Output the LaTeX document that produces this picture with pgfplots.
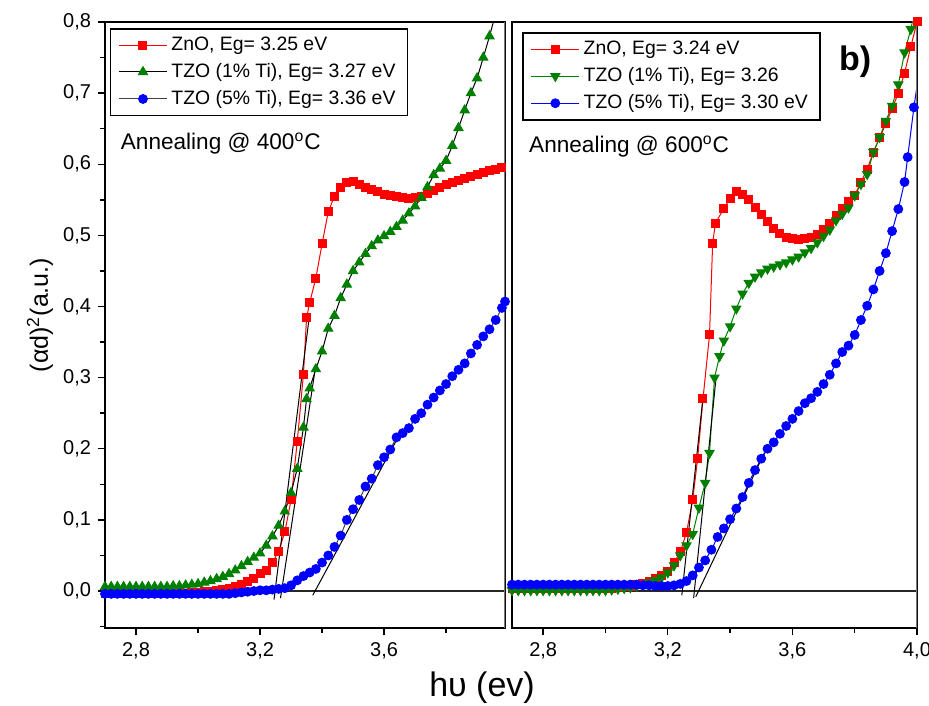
\documentclass[border=0pt]{standalone}
\usepackage{fontspec}
\setmainfont{Liberation Sans}
\usepackage{pgfplots}
\pgfplotsset{compat=1.18}
\definecolor{zred}{RGB}{255,0,0}
\definecolor{zgreen}{RGB}{0,128,0}
\definecolor{zblue}{RGB}{0,0,255}
\definecolor{frame}{RGB}{120,120,120}

\pgfplotsset{
  panel/.style={
    scale only axis, height=303pt,
    ymin=-0.052, ymax=0.8, xmin=2.7,
    axis line style={line width=0.8pt},
    tick style={black, line width=0.7pt},
    tick align=outside, major tick length=3.5pt, minor tick length=2.5pt,
    xtick pos=left, ytick pos=left,
    ticklabel style={font=\fontsize{10}{12}\selectfont},
    /pgf/number format/assume math mode=true,
    /pgf/number format/use comma,
    /pgf/number format/fixed,
    /pgf/number format/fixed zerofill,
    /pgf/number format/precision=1,
    legend cell align=left,
    legend image code/.code={\draw[mark repeat=2,mark phase=2]
      plot coordinates {(0cm,0cm) (0.42cm,0cm) (0.84cm,0cm)};},
    legend style={draw=black, line width=0.8pt, anchor=north west,
      font=\fontsize{9.7}{11}\selectfont, inner xsep=4pt, inner ysep=2pt,
      row sep=1pt},
  },
  tang/.style={black, line width=0.5pt, forget plot},
  zero/.style={black!85, line width=1.4pt, forget plot},
}

\begin{document}
\begin{tikzpicture}
\useasboundingbox (0,0) rectangle (464.5pt,352.5pt);

% ---- left panel: annealing 400 C
\begin{axis}[panel, at={(52.5pt,38.5pt)}, anchor=south west,
  width=200pt, xmax=3.99,
  xtick={2.8,3.2,3.6}, minor xtick={3.0,3.4,3.8},
  ytick={0,0.1,...,0.8}, minor ytick={-0.05,0.05,0.15,0.25,0.35,0.45,0.55,0.65,0.75},
  legend style={at={(0.012,0.99)}},
]
\addplot[zred, line width=0.5pt, mark=square*, mark size=2pt,
  mark options={fill=zred, draw=zred}] coordinates {
(2.70,-0.004) (2.72,-0.004) (2.74,-0.004) (2.76,-0.004) (2.78,-0.004) (2.80,-0.004)
(2.82,-0.004) (2.84,-0.004) (2.86,-0.004) (2.88,-0.004) (2.90,-0.004) (2.92,-0.003)
(2.94,-0.003) (2.96,-0.003) (2.98,-0.002) (3.00,-0.002) (3.02,-0.001) (3.04,0.000)
(3.06,0.001) (3.08,0.002) (3.10,0.004) (3.12,0.006) (3.14,0.009) (3.16,0.013)
(3.18,0.018) (3.20,0.024) (3.22,0.029) (3.24,0.040) (3.26,0.056) (3.28,0.083)
(3.30,0.128) (3.32,0.210) (3.34,0.305) (3.35,0.384) (3.36,0.405) (3.38,0.440)
(3.40,0.488) (3.42,0.533) (3.44,0.555) (3.46,0.568) (3.48,0.575) (3.50,0.576)
(3.52,0.572) (3.54,0.567) (3.56,0.564) (3.58,0.561) (3.60,0.558) (3.62,0.556)
(3.64,0.554) (3.66,0.553) (3.68,0.552) (3.70,0.553) (3.72,0.555) (3.74,0.559)
(3.76,0.563) (3.78,0.567) (3.80,0.571) (3.82,0.574) (3.84,0.577) (3.86,0.580)
(3.88,0.583) (3.90,0.586) (3.92,0.588) (3.94,0.591) (3.96,0.593) (3.98,0.596)
};
\addlegendentry{ZnO, Eg= 3.25 eV}
\addplot[black, line width=0.5pt, mark=triangle*, mark size=2.6pt,
  mark options={fill=zgreen, draw=zgreen}] coordinates {
(2.70,0.006) (2.72,0.006) (2.74,0.006) (2.76,0.006) (2.78,0.006) (2.80,0.006)
(2.82,0.006) (2.84,0.006) (2.86,0.006) (2.88,0.006) (2.90,0.006) (2.92,0.007)
(2.94,0.007) (2.96,0.008) (2.98,0.009) (3.00,0.010) (3.02,0.012) (3.04,0.014)
(3.06,0.017) (3.08,0.020) (3.10,0.024) (3.12,0.029) (3.14,0.035) (3.16,0.041)
(3.18,0.047) (3.20,0.053) (3.22,0.064) (3.24,0.077) (3.26,0.092) (3.28,0.112)
(3.30,0.138) (3.32,0.172) (3.34,0.230) (3.35,0.270) (3.36,0.285) (3.38,0.312)
(3.40,0.337) (3.42,0.369) (3.44,0.387) (3.46,0.412) (3.48,0.431) (3.50,0.450)
(3.52,0.462) (3.54,0.474) (3.56,0.485) (3.58,0.493) (3.60,0.499) (3.62,0.505)
(3.64,0.512) (3.66,0.521) (3.68,0.531) (3.70,0.541) (3.72,0.553) (3.74,0.568)
(3.76,0.585) (3.78,0.594) (3.80,0.605) (3.82,0.626) (3.84,0.651) (3.86,0.676)
(3.88,0.700) (3.90,0.721) (3.92,0.750) (3.94,0.780) (3.96,0.812)
};
\addlegendentry{TZO (1\% Ti), Eg= 3.27 eV}
\addplot[black!75, line width=0.5pt, mark=*, mark size=2.2pt,
  mark options={fill=zblue, draw=zblue}] coordinates {
(2.70,-0.004) (2.72,-0.004) (2.74,-0.004) (2.76,-0.004) (2.78,-0.004) (2.80,-0.004)
(2.82,-0.004) (2.84,-0.004) (2.86,-0.004) (2.88,-0.004) (2.90,-0.004) (2.92,-0.004)
(2.94,-0.004) (2.96,-0.004) (2.98,-0.004) (3.00,-0.004) (3.02,-0.004) (3.04,-0.004)
(3.06,-0.004) (3.08,-0.004) (3.10,-0.004) (3.12,-0.003) (3.14,-0.002) (3.16,-0.001)
(3.18,0.000) (3.20,0.001) (3.22,0.001) (3.24,0.002) (3.26,0.003) (3.28,0.004)
(3.30,0.008) (3.32,0.015) (3.34,0.021) (3.36,0.026) (3.38,0.031) (3.40,0.040)
(3.42,0.050) (3.44,0.062) (3.46,0.078) (3.48,0.100) (3.50,0.115) (3.52,0.128)
(3.54,0.147) (3.56,0.158) (3.58,0.177) (3.60,0.188) (3.62,0.199) (3.64,0.216)
(3.66,0.222) (3.68,0.229) (3.70,0.242) (3.72,0.250) (3.74,0.262) (3.76,0.272)
(3.78,0.282) (3.80,0.291) (3.82,0.302) (3.84,0.311) (3.86,0.320) (3.88,0.334)
(3.90,0.346) (3.92,0.358) (3.94,0.368) (3.96,0.381) (3.98,0.398) (3.99,0.407)
};
\addlegendentry{TZO (5\% Ti), Eg= 3.36 eV}
\addplot[zero] coordinates {(2.7,0) (3.99,0)};
\addplot[tang] coordinates {(3.245,-0.012) (3.360,0.390)};
\addplot[tang] coordinates {(3.266,-0.010) (3.380,0.318)};
\addplot[tang] coordinates {(3.370,-0.006) (3.645,0.216)};
\node[anchor=west, font=\fontsize{11.3}{13}\selectfont] at (rel axis cs:0.022,0.80)
  {Annealing @ 400\textsuperscript{o}C};
\draw[frame, line width=1.4pt] (rel axis cs:1,0) -- (rel axis cs:1,1);
\end{axis}

% ---- right panel: annealing 600 C
\begin{axis}[panel, at={(256pt,38.5pt)}, anchor=south west,
  width=202.5pt, xmax=4.0,
  xtick={2.8,3.2,3.6,4.0}, minor xtick={3.0,3.4,3.8},
  ytick=\empty,
  legend style={at={(0.025,0.983)}},
]
\addplot[zred, line width=0.5pt, mark=square*, mark size=2pt,
  mark options={fill=zred, draw=zred}] coordinates {
(2.70,0.003) (2.72,0.003) (2.74,0.003) (2.76,0.003) (2.78,0.003) (2.80,0.003)
(2.82,0.003) (2.84,0.003) (2.86,0.003) (2.88,0.003) (2.90,0.003) (2.92,0.003)
(2.94,0.003) (2.96,0.003) (2.98,0.003) (3.00,0.003) (3.02,0.004) (3.04,0.005)
(3.06,0.006) (3.08,0.007) (3.10,0.009) (3.12,0.011) (3.14,0.014) (3.16,0.018)
(3.18,0.022) (3.20,0.028) (3.22,0.040) (3.24,0.055) (3.26,0.082) (3.28,0.128)
(3.296,0.187) (3.313,0.270) (3.334,0.360) (3.344,0.489) (3.353,0.517) (3.38,0.538)
(3.40,0.552) (3.42,0.561) (3.44,0.558) (3.46,0.550) (3.48,0.539) (3.50,0.529)
(3.52,0.519) (3.54,0.509) (3.56,0.502) (3.58,0.497) (3.60,0.495) (3.62,0.494)
(3.64,0.495) (3.66,0.497) (3.68,0.501) (3.70,0.508) (3.72,0.517) (3.74,0.528)
(3.76,0.538) (3.78,0.547) (3.80,0.556) (3.82,0.575) (3.84,0.593) (3.86,0.617)
(3.88,0.637) (3.90,0.657) (3.92,0.678) (3.94,0.700) (3.96,0.728) (3.98,0.765)
(4.00,0.800)
};
\addlegendentry{ZnO, Eg= 3.24 eV}
\addplot[zgreen, line width=0.5pt, mark=triangle*, mark size=2.6pt,
  mark options={fill=zgreen, draw=zgreen, rotate=180}] coordinates {
(2.70,0.001) (2.72,0.001) (2.74,0.001) (2.76,0.001) (2.78,0.001) (2.80,0.001)
(2.82,0.001) (2.84,0.001) (2.86,0.001) (2.88,0.001) (2.90,0.001) (2.92,0.001)
(2.94,0.001) (2.96,0.001) (2.98,0.001) (3.00,0.001) (3.02,0.002) (3.04,0.003)
(3.06,0.004) (3.08,0.005) (3.10,0.007) (3.12,0.009) (3.14,0.012) (3.16,0.015)
(3.18,0.019) (3.20,0.026) (3.22,0.036) (3.24,0.050) (3.26,0.064) (3.28,0.080)
(3.30,0.117) (3.32,0.152) (3.334,0.194) (3.35,0.300) (3.366,0.330) (3.38,0.352)
(3.40,0.372) (3.42,0.397) (3.44,0.418) (3.46,0.433) (3.48,0.442) (3.50,0.448)
(3.52,0.453) (3.54,0.456) (3.56,0.459) (3.58,0.462) (3.60,0.466) (3.62,0.470)
(3.64,0.476) (3.66,0.482) (3.68,0.490) (3.70,0.499) (3.72,0.508) (3.74,0.521)
(3.76,0.530) (3.78,0.539) (3.80,0.556) (3.82,0.572) (3.84,0.586) (3.86,0.617)
(3.88,0.638) (3.90,0.661) (3.92,0.682) (3.94,0.712) (3.96,0.757) (3.98,0.790)
(3.99,0.810)
};
\addlegendentry{TZO (1\% Ti), Eg= 3.26}
\addplot[zblue, line width=0.5pt, mark=*, mark size=2.2pt,
  mark options={fill=zblue, draw=zblue}] coordinates {
(2.70,0.009) (2.72,0.009) (2.74,0.009) (2.76,0.009) (2.78,0.009) (2.80,0.009)
(2.82,0.009) (2.84,0.009) (2.86,0.009) (2.88,0.009) (2.90,0.009) (2.92,0.009)
(2.94,0.009) (2.96,0.009) (2.98,0.009) (3.00,0.009) (3.02,0.009) (3.04,0.009)
(3.06,0.009) (3.08,0.009) (3.10,0.009) (3.12,0.008) (3.14,0.008) (3.16,0.007)
(3.18,0.007) (3.20,0.007) (3.22,0.008) (3.24,0.010) (3.26,0.014) (3.28,0.022)
(3.30,0.033) (3.32,0.043) (3.34,0.058) (3.36,0.076) (3.38,0.088) (3.40,0.101)
(3.42,0.116) (3.44,0.132) (3.46,0.152) (3.48,0.170) (3.50,0.186) (3.52,0.200)
(3.54,0.209) (3.56,0.221) (3.58,0.232) (3.60,0.242) (3.62,0.253) (3.64,0.264)
(3.66,0.271) (3.68,0.280) (3.70,0.291) (3.72,0.304) (3.74,0.320) (3.76,0.336)
(3.78,0.345) (3.80,0.360) (3.82,0.381) (3.84,0.401) (3.86,0.424) (3.88,0.450)
(3.90,0.475) (3.92,0.506) (3.94,0.537) (3.96,0.575) (3.97,0.610) (3.99,0.680)
(4.01,0.740)
};
\addlegendentry{TZO (5\% Ti), Eg= 3.30 eV}
\addplot[zero] coordinates {(2.7,0) (4.0,0)};
\addplot[tang] coordinates {(3.245,-0.006) (3.313,0.272)};
\addplot[tang] coordinates {(3.283,-0.010) (3.355,0.300)};
\addplot[tang] coordinates {(3.290,-0.008) (3.510,0.194)};
\node[anchor=west, font=\fontsize{11.3}{13}\selectfont] at (rel axis cs:0.025,0.794)
  {Annealing @ 600\textsuperscript{o}C};
\node[font=\bfseries\fontsize{17}{20}\selectfont] at (rel axis cs:0.847,0.934) {b)};
\draw[frame, line width=1.4pt] (rel axis cs:1,0) -- (rel axis cs:1,1);
\end{axis}

\node[rotate=90, font=\fontsize{12.5}{14}\selectfont] at (20pt,195pt)
  {(αd)\textsuperscript{2}(a.u.)};
\node[font=\fontsize{17}{20}\selectfont] at (241pt,8.5pt) {hυ (ev)};
\end{tikzpicture}
\end{document}
